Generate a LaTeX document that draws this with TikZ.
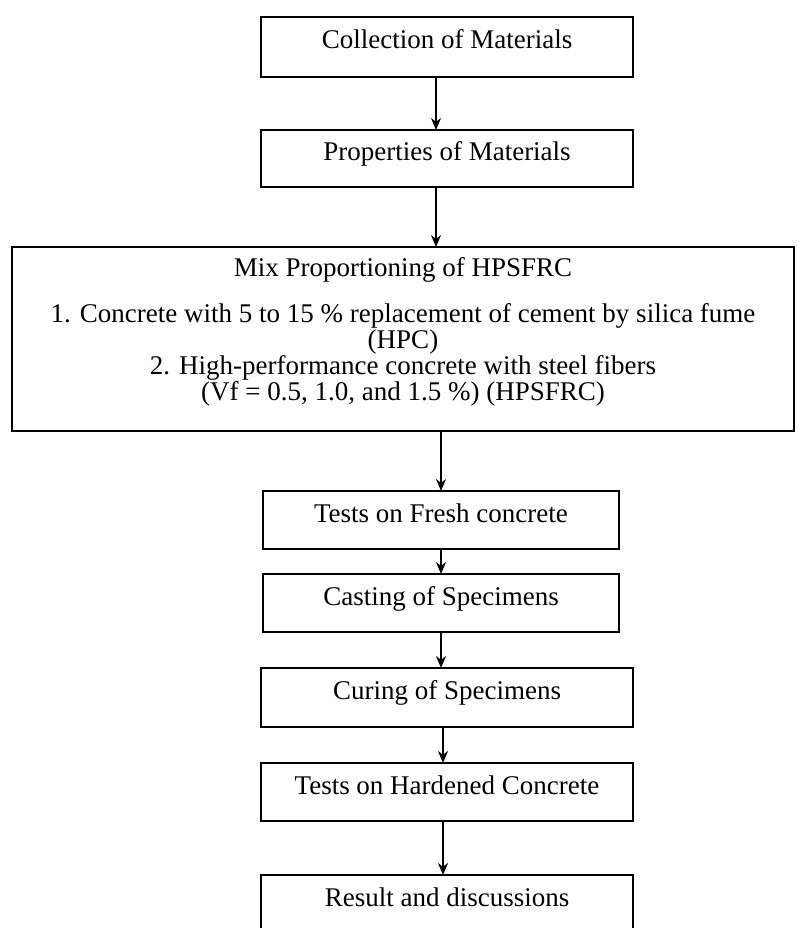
\documentclass[tikz,border=0pt]{standalone}
\usepackage{fontspec}
\setmainfont{Liberation Serif}
\usetikzlibrary{positioning, arrows.meta}

\begin{document}
\begin{tikzpicture}[> = {Stealth[length=12pt,width=10pt]}, % arrow head style
                x = 1pt, y = 1pt, % one unit per pixel
                node distance = 36pt, % gap between boxes
                semithick % line style
            ]

            \tikzset{box/.style={draw = black, rectangle, line width = 1.6pt,
            inner sep = 0pt, outer sep = 0pt, font = \fontsize{27}{26}\selectfont},
            stagebox/.style={box, minimum width = 372pt, minimum height = 58pt,
            text height = 18pt, text depth = 14pt},
            bigbox/.style={box, minimum width = 782pt, minimum height = 184pt,
            align = center},
            flow/.style={->, line width = 1.3pt}}

            \useasboundingbox (0,0) rectangle (796,-928);

            \node (coll) [stagebox, minimum height = 60pt] at (447,-47)
            {Collection of Materials}; \node (prop) [stagebox, minimum height
            = 57pt, below = 53pt of coll] {Properties of Materials}; \node
            (mix) [bigbox, below = 60pt of prop, xshift = -44pt] {Mix
            Proportioning of HPSFRC\\[20pt] 1. Concrete with 5 to 15 \%
            replacement of cement by silica fume\\ (HPC)\\ 2. High-performance
            concrete with steel fibers\\ (Vf = 0.5, 1.0, and 1.5 \%)
            (HPSFRC)\rule[-21pt]{0pt}{21pt}}; \node (fresh) [stagebox, minimum
            width = 356pt, below = 60pt of mix, xshift = 38pt] {Tests on Fresh
            concrete}; \node (cast) [stagebox, minimum width = 356pt, below =
            25pt of fresh] {Casting of Specimens}; \node (cure) [stagebox,
            minimum height = 59pt, below = 36pt of cast, xshift = 6pt] {Curing
            of Specimens}; \node (hard) [stagebox, below = 36pt of cure] {Tests
            on Hardened Concrete}; \node (res) [stagebox, below = 54pt of hard]
            {Result and discussions};

            \draw[flow] ([xshift=-11pt]coll.south) -- ([xshift=-11pt]coll.south
            |- prop.north); \draw[flow] ([xshift=-11pt]prop.south) --
            ([xshift=-11pt]prop.south |- mix.north); \draw[flow] (mix.south -|
            fresh.north) -- (fresh.north); \draw[flow] (fresh) -- (cast);
            \draw[flow] (cast.south) -- (cast.south |- cure.north); \draw[flow]
            ([xshift=-4pt]cure.south) -- ([xshift=-4pt]cure.south |-
            hard.north); \draw[flow] ([xshift=-4pt]hard.south) --
            ([xshift=-4pt]hard.south |- res.north); \end{tikzpicture}
\end{document}
